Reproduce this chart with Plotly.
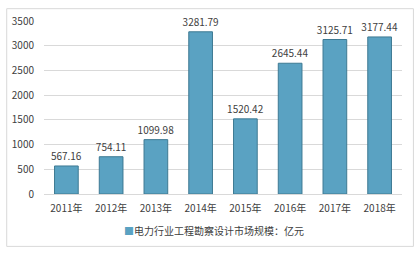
import plotly.graph_objects as go

years = ["2011年", "2012年", "2013年", "2014年", "2015年", "2016年", "2017年", "2018年"]
values = [567.16, 754.11, 1099.98, 3281.79, 1520.42, 2645.44, 3125.71, 3177.44]
labels = ["567.16", "754.11", "1099.98", "3281.79", "1520.42", "2645.44", "3125.71", "3177.44"]
series_name = "电力行业工程勘察设计市场规模：亿元"

W, H = 418, 253
L, R, T, B = 42.5, 15.5, 15.7, 59
pw, ph = W - L - R, H - T - B

font = "Noto Sans CJK SC, Liberation Sans, sans-serif"
bar_color = "#5aa2c2"

fig = go.Figure(go.Bar(
    x=years, y=values, name=series_name,
    text=labels, textposition="outside", cliponaxis=False, constraintext="none",
    textfont=dict(size=10, color="#404040", family=font),
    marker=dict(color=bar_color, line=dict(color="#3e7a93", width=1)),
    width=0.53, showlegend=False,
))

fig.update_layout(
    width=W, height=H,
    margin=dict(l=L, r=R, t=T, b=B),
    paper_bgcolor="white", plot_bgcolor="white",
    font=dict(family=font, size=10, color="#404040"),
    xaxis=dict(showgrid=False, showline=True, linecolor="#d9d9d9", ticks="",
               ticklabelstandoff=5, tickfont=dict(size=10, color="#404040")),
    yaxis=dict(range=[0, 3500], dtick=500, showgrid=True, gridcolor="#d9d9d9",
               zeroline=False, showline=False, ticks="", ticklabelstandoff=9,
               tickfont=dict(size=10, color="#404040")),
    annotations=[dict(
        xref="paper", yref="paper", x=(213 - L) / pw, y=(194 - 232) / ph,
        xanchor="center", yanchor="middle", showarrow=False,
        text=f'<span style="color:{bar_color}">■</span>{series_name}',
        font=dict(size=10, color="#404040", family=font),
    )],
    shapes=[dict(type="rect", xref="paper", yref="paper",
                 x0=(5 - L) / pw, x1=(414 - L) / pw,
                 y0=(194 - 248) / ph, y1=(194 - 3) / ph,
                 line=dict(color="#d9d9d9", width=1), fillcolor="rgba(0,0,0,0)",
                 layer="below")],
)

fig.write_html("out.html")
